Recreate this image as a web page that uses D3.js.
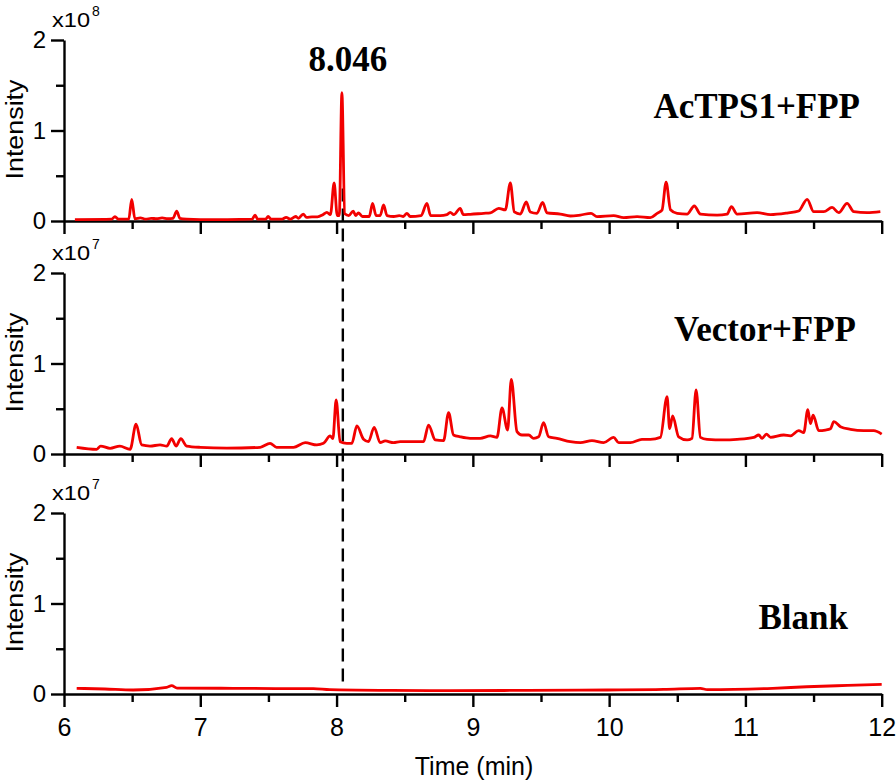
<!DOCTYPE html>
<html>
<head>
<meta charset="utf-8">
<script src="https://cdn.jsdelivr.net/npm/d3@7"></script>
<style>
  html, body { margin: 0; padding: 0; background: #fff; }
  svg { display: block; }
</style>
</head>
<body>
<svg id="chart" width="896" height="783"></svg>
<script>
// ---------------- DATA ----------------
const xMajorTicks = [6, 7, 8, 9, 10, 11, 12];
const xMinorTicks = [6.5, 7.5, 8.5, 9.5, 10.5, 11.5];
const yMajorTicks = [0, 1, 2];
const yMinorTicks = [0.5, 1.5];
const panelNames = ["AcTPS1+FPP", "Vector+FPP", "Blank"];
const panelExponents = ["8", "7", "7"];
const markerTime = 8.046;
const markerLabel = "8.046";
const xTitle = "Time (min)";
const yTitle = "Intensity";

// AcTPS1+FPP (x10^8) : [time (min), intensity]
const seriesAcTPS1 = [
  [6.08,0.015],[6.30,0.018],[6.35,0.02],[6.374,0.048],[6.40,0.02],[6.475,0.02],[6.497,0.24],[6.52,0.025],
  [6.56,0.035],[6.60,0.02],[6.64,0.03],[6.68,0.025],[6.72,0.035],[6.76,0.025],[6.80,0.03],[6.827,0.11],
  [6.85,0.03],[6.90,0.02],[7.0,0.015],[7.2,0.015],[7.38,0.02],[7.402,0.066],[7.42,0.02],[7.48,0.02],
  [7.498,0.05],[7.52,0.02],[7.60,0.02],[7.63,0.04],[7.66,0.02],[7.70,0.05],[7.72,0.03],[7.755,0.077],
  [7.78,0.04],[7.82,0.045],[7.86,0.045],[7.90,0.07],[7.929,0.096],[7.955,0.07],[7.982,0.42],[8.005,0.06],
  [8.02,0.06],[8.039,1.418],[8.06,0.08],[8.09,0.06],[8.122,0.11],[8.14,0.06],[8.16,0.09],[8.19,0.05],
  [8.24,0.05],[8.264,0.195],[8.29,0.06],[8.32,0.06],[8.345,0.177],[8.37,0.06],[8.42,0.05],[8.46,0.06],
  [8.49,0.05],[8.516,0.085],[8.54,0.05],[8.62,0.06],[8.663,0.195],[8.69,0.06],[8.76,0.06],[8.81,0.07],
  [8.834,0.095],[8.86,0.07],[8.907,0.14],[8.93,0.07],[8.981,0.074],[9.079,0.085],[9.128,0.09],[9.19,0.14],
  [9.238,0.122],[9.275,0.42],[9.304,0.10],[9.348,0.077],[9.392,0.21],[9.421,0.10],[9.47,0.085],[9.512,0.205],
  [9.544,0.09],[9.642,0.077],[9.715,0.055],[9.789,0.066],[9.867,0.085],[9.911,0.048],[10.033,0.059],[10.107,0.037],
  [10.205,0.048],[10.302,0.037],[10.352,0.085],[10.388,0.12],[10.418,0.43],[10.45,0.125],[10.499,0.085],[10.572,0.077],
  [10.625,0.166],[10.67,0.077],[10.792,0.066],[10.866,0.077],[10.897,0.158],[10.939,0.077],[11.086,0.092],[11.184,0.07],
  [11.306,0.088],[11.391,0.11],[11.453,0.24],[11.501,0.103],[11.575,0.103],[11.636,0.15],[11.685,0.092],[11.746,0.195],
  [11.795,0.103],[11.893,0.092],[11.99,0.103]
];

// Vector+FPP (x10^7)
const seriesVector = [
  [6.093,0.074],[6.24,0.052],[6.269,0.088],[6.338,0.063],[6.41,0.088],[6.485,0.052],[6.529,0.33],[6.57,0.10],
  [6.631,0.088],[6.705,0.10],[6.754,0.088],[6.79,0.17],[6.822,0.088],[6.857,0.17],[6.90,0.088],[7.0,0.074],
  [7.195,0.066],[7.44,0.074],[7.512,0.118],[7.56,0.074],[7.684,0.074],[7.77,0.125],[7.855,0.10],[7.904,0.118],
  [7.953,0.20],[7.973,0.17],[7.997,0.597],[8.026,0.136],[8.075,0.118],[8.112,0.118],[8.149,0.31],[8.198,0.162],
  [8.234,0.136],[8.276,0.295],[8.32,0.125],[8.357,0.144],[8.418,0.125],[8.467,0.136],[8.638,0.136],[8.675,0.32],
  [8.724,0.155],[8.785,0.147],[8.822,0.457],[8.858,0.21],[8.907,0.19],[8.98,0.173],[9.054,0.173],[9.128,0.20],
  [9.177,0.184],[9.214,0.51],[9.255,0.265],[9.282,0.825],[9.324,0.247],[9.36,0.21],[9.41,0.21],[9.446,0.173],
  [9.483,0.19],[9.519,0.346],[9.556,0.19],[9.617,0.173],[9.715,0.136],[9.789,0.125],[9.874,0.147],[9.96,0.125],
  [10.033,0.184],[10.07,0.125],[10.156,0.125],[10.241,0.162],[10.302,0.162],[10.376,0.184],[10.425,0.633],[10.444,0.28],
  [10.466,0.42],[10.51,0.19],[10.572,0.155],[10.608,0.173],[10.638,0.707],[10.67,0.184],[10.719,0.162],[10.841,0.155],
  [10.939,0.162],[11.061,0.184],[11.098,0.21],[11.122,0.173],[11.154,0.22],[11.184,0.184],[11.281,0.21],[11.33,0.20],
  [11.391,0.258],[11.428,0.236],[11.458,0.49],[11.477,0.335],[11.497,0.43],[11.538,0.258],[11.587,0.265],[11.624,0.28],
  [11.649,0.357],[11.697,0.302],[11.771,0.273],[11.868,0.258],[11.942,0.258],[12.0,0.22]
];

// Blank (x10^7)
const seriesBlank = [
  [6.093,0.063],[6.30,0.055],[6.507,0.044],[6.754,0.074],[6.79,0.092],[6.83,0.066],[7.24,0.063],[7.55,0.06],
  [7.83,0.06],[7.95,0.048],[8.40,0.04],[8.834,0.037],[9.40,0.04],[9.985,0.044],[10.40,0.05],[10.67,0.063],
  [10.72,0.048],[11.2,0.063],[11.45,0.08],[11.75,0.095],[12.0,0.107]
];

const panelSeries = [seriesAcTPS1, seriesVector, seriesBlank];

// ---------------- LAYOUT ----------------
const svg = d3.select("#chart");
const left = 64, right = 881.7;
const panelBottoms = [221, 454, 694];
const panelHeight = 181;
const sansFont = "Arial, 'Liberation Sans', Helvetica, sans-serif";
const serifFont = "'Times New Roman', 'Liberation Serif', serif";
const red = "#f20000";

const x = d3.scaleLinear().domain([6, 12]).range([left, right]);
const yScales = panelBottoms.map(b => d3.scaleLinear().domain([0, 2]).range([b, b - panelHeight]));

// dashed marker line (under the traces)
svg.append("line")
  .attr("x1", x(markerTime)).attr("x2", x(markerTime))
  .attr("y1", yScales[0](0.36)).attr("y2", yScales[2](0.08))
  .attr("stroke", "#000").attr("stroke-width", 2.4)
  .attr("stroke-dasharray", "13,7");

panelSeries.forEach((data, i) => {
  const y = yScales[i];
  const g = svg.append("g");

  // x axis major
  const xAxis = d3.axisBottom(x).tickValues(xMajorTicks).tickSize(13).tickSizeOuter(0)
    .tickPadding(11)
    .tickFormat(i === 2 ? d3.format("d") : () => "");
  const gx = g.append("g").attr("transform", `translate(0,${panelBottoms[i]})`).call(xAxis);
  gx.select(".domain").attr("stroke-width", 2.4);
  gx.selectAll(".tick line").attr("stroke-width", 2.4);
  gx.selectAll(".tick text").attr("font-family", sansFont).attr("font-size", 25).attr("fill", "#000");

  const xMinor = d3.axisBottom(x).tickValues(xMinorTicks).tickSize(8).tickFormat(() => "");
  const gxm = g.append("g").attr("transform", `translate(0,${panelBottoms[i]})`).call(xMinor);
  gxm.select(".domain").remove();
  gxm.selectAll(".tick line").attr("stroke-width", 2.4);

  // y axis
  const yAxis = d3.axisLeft(y).tickValues(yMajorTicks).tickSize(13).tickSizeOuter(0)
    .tickPadding(5).tickFormat(d3.format("d"));
  const gy = g.append("g").attr("transform", `translate(${left},0)`).call(yAxis);
  gy.select(".domain").attr("stroke-width", 2.4);
  gy.selectAll(".tick line").attr("stroke-width", 2.4);
  gy.selectAll(".tick text").attr("font-family", sansFont).attr("font-size", 24).attr("fill", "#000");

  const yMinor = d3.axisLeft(y).tickValues(yMinorTicks).tickSize(8).tickFormat(() => "");
  const gym = g.append("g").attr("transform", `translate(${left},0)`).call(yMinor);
  gym.select(".domain").remove();
  gym.selectAll(".tick line").attr("stroke-width", 2.4);

  // exponent label
  g.append("text").attr("x", left - 12).attr("y", y(2) - 13)
    .attr("font-family", sansFont).attr("font-size", 21).attr("fill", "#000")
    .attr("textLength", 38).attr("lengthAdjust", "spacingAndGlyphs")
    .text("x10");
  g.append("text").attr("x", left + 28).attr("y", y(2) - 24)
    .attr("font-family", sansFont).attr("font-size", 14).attr("fill", "#000")
    .text(panelExponents[i]);

  // y title
  g.append("text")
    .attr("transform", `translate(23,${(y(0) + y(2)) / 2 - 1}) rotate(-90)`)
    .attr("text-anchor", "middle")
    .attr("font-family", sansFont).attr("font-size", 23).attr("fill", "#000")
    .attr("textLength", 100).attr("lengthAdjust", "spacingAndGlyphs")
    .text(yTitle);

  // trace
  const line = d3.line().x(d => x(d[0])).y(d => y(d[1])).curve(d3.curveMonotoneX);
  g.append("path").datum(data).attr("d", line)
    .attr("fill", "none").attr("stroke", red).attr("stroke-width", 2.8)
    .attr("stroke-linejoin", "round");
});

// panel labels
const labelPos = [[860, 118], [856, 341], [848, 629]];
panelNames.forEach((name, i) => {
  svg.append("text").attr("x", labelPos[i][0]).attr("y", labelPos[i][1])
    .attr("text-anchor", "end")
    .attr("font-family", serifFont).attr("font-weight", "bold").attr("font-size", 35)
    .attr("fill", "#000").text(name);
});

// marker label
svg.append("text").attr("x", x(markerTime) + 5).attr("y", 71)
  .attr("text-anchor", "middle")
  .attr("font-family", serifFont).attr("font-weight", "bold").attr("font-size", 35)
  .attr("fill", "#000").text(markerLabel);

// x title
svg.append("text").attr("x", 474).attr("y", 775)
  .attr("text-anchor", "middle")
  .attr("font-family", sansFont).attr("font-size", 25).attr("fill", "#000")
  .text(xTitle);
</script>
</body>
</html>
